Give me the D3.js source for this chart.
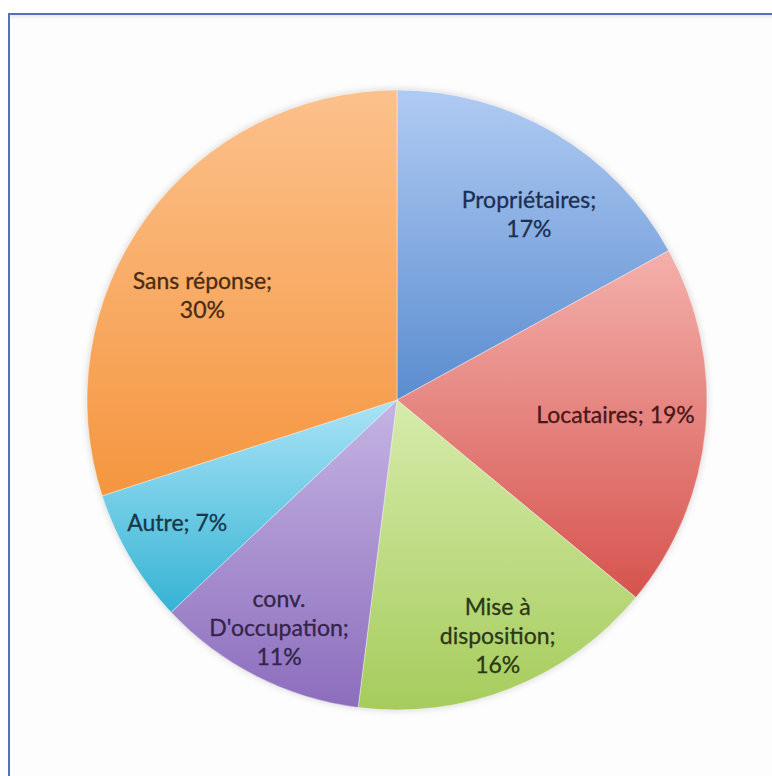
<!DOCTYPE html>
<html><head><meta charset="utf-8">
<script src="https://cdn.jsdelivr.net/npm/d3@7"></script>
<style>html,body{margin:0;padding:0;background:#fff;}svg{display:block;}</style>
</head><body>
<svg id="chart" width="772" height="776"></svg>
<script>
const categories = ["Propriétaires", "Locataires", "Mise à disposition", "conv. D'occupation", "Autre", "Sans réponse"];
const values = [17, 19, 16, 11, 7, 30];
const labelLines = [["Propriétaires;", "17%"], ["Locataires; 19%"], ["Mise à", "disposition;", "16%"], ["conv.", "D'occupation;", "11%"], ["Autre; 7%"], ["Sans réponse;", "30%"]];
// label nudges away from the arc centroid (layout only)
const labelNudge = [[12, 17], [-16, -7], [14, 17], [-11, 18], [-17, 3], [-4, 34]];
const topColors = ["#b0cbf3", "#f4b0ab", "#d6ebab", "#c5b4e3", "#a9e3f6", "#fcc18c"];
const bottomColors = ["#5a8ccf", "#d6534e", "#a6cc5c", "#8c6dbd", "#35b3d4", "#f5963f"];
const textColors = ["#1c2f50", "#4a1717", "#2c3716", "#33244a", "#16384a", "#4a2c14"];

const svg = d3.select("#chart");
const W = 772, H = 776;
const defs = svg.append("defs");

// frame
const fg = defs.append("linearGradient").attr("id","frameShade").attr("x1",0).attr("y1",0).attr("x2",0).attr("y2",1);
fg.append("stop").attr("offset","0").attr("stop-color","#e6e6e6");
fg.append("stop").attr("offset","1").attr("stop-color","#fdfdfd");
svg.append("rect").attr("x",9).attr("y",14).attr("width",W).attr("height",H).attr("fill","#fdfdfd");
svg.append("rect").attr("x",9).attr("y",14).attr("width",W).attr("height",6).attr("fill","url(#frameShade)");
svg.append("line").attr("x1",9).attr("y1",14).attr("x2",W).attr("y2",14).attr("stroke","#5470bd").attr("stroke-width",2);
svg.append("line").attr("x1",9).attr("y1",13).attr("x2",9).attr("y2",H).attr("stroke","#5470bd").attr("stroke-width",2);

const cx = 397, cy = 400, r = 310;
const g = svg.append("g").attr("transform", `translate(${cx},${cy})`);

const pie = d3.pie().sort(null).value(d => d);
const arcs = pie(values);
const arc = d3.arc().innerRadius(0).outerRadius(r);
const labelArc = d3.arc().innerRadius(r * 0.76).outerRadius(r * 0.76);

// soft shadow
const flt = defs.append("filter").attr("id","soft").attr("x","-10%").attr("y","-10%").attr("width","120%").attr("height","120%");
flt.append("feGaussianBlur").attr("stdDeviation",3);
g.append("circle").attr("r", r + 1).attr("fill","#dcdcdc").attr("filter","url(#soft)");

arcs.forEach((a, i) => {
  const lg = defs.append("linearGradient").attr("id","grad"+i)
    .attr("gradientUnits","objectBoundingBox").attr("x1",0).attr("y1",0).attr("x2",0).attr("y2",1);
  lg.append("stop").attr("offset","0").attr("stop-color", topColors[i]);
  lg.append("stop").attr("offset","1").attr("stop-color", bottomColors[i]);
});

g.selectAll("path.slice").data(arcs).join("path")
  .attr("class","slice")
  .attr("d", arc)
  .attr("fill", (d, i) => `url(#grad${i})`)
  .attr("stroke", "rgba(255,255,255,0.5)")
  .attr("stroke-width", 0.8);

const lineH = 29, fs = 23;
g.selectAll("text.lbl").data(arcs).join("text")
  .attr("class","lbl")
  .attr("text-anchor","middle")
  .attr("font-family","Lato, 'Open Sans', sans-serif")
  .attr("font-size", fs)
  .attr("fill", (d, i) => textColors[i])
  .attr("stroke", (d, i) => textColors[i])
  .attr("stroke-width", 0.3)
  .each(function(d, i) {
    const c = labelArc.centroid(d);
    const x = c[0] + labelNudge[i][0], y = c[1] + labelNudge[i][1];
    const lines = labelLines[i];
    const t = d3.select(this);
    const y0 = y - (lines.length - 1) * lineH / 2 + fs * 0.35;
    lines.forEach((ln, k) => {
      t.append("tspan").attr("x", x).attr("y", y0 + k * lineH).text(ln);
    });
  });
</script>
</body></html>
